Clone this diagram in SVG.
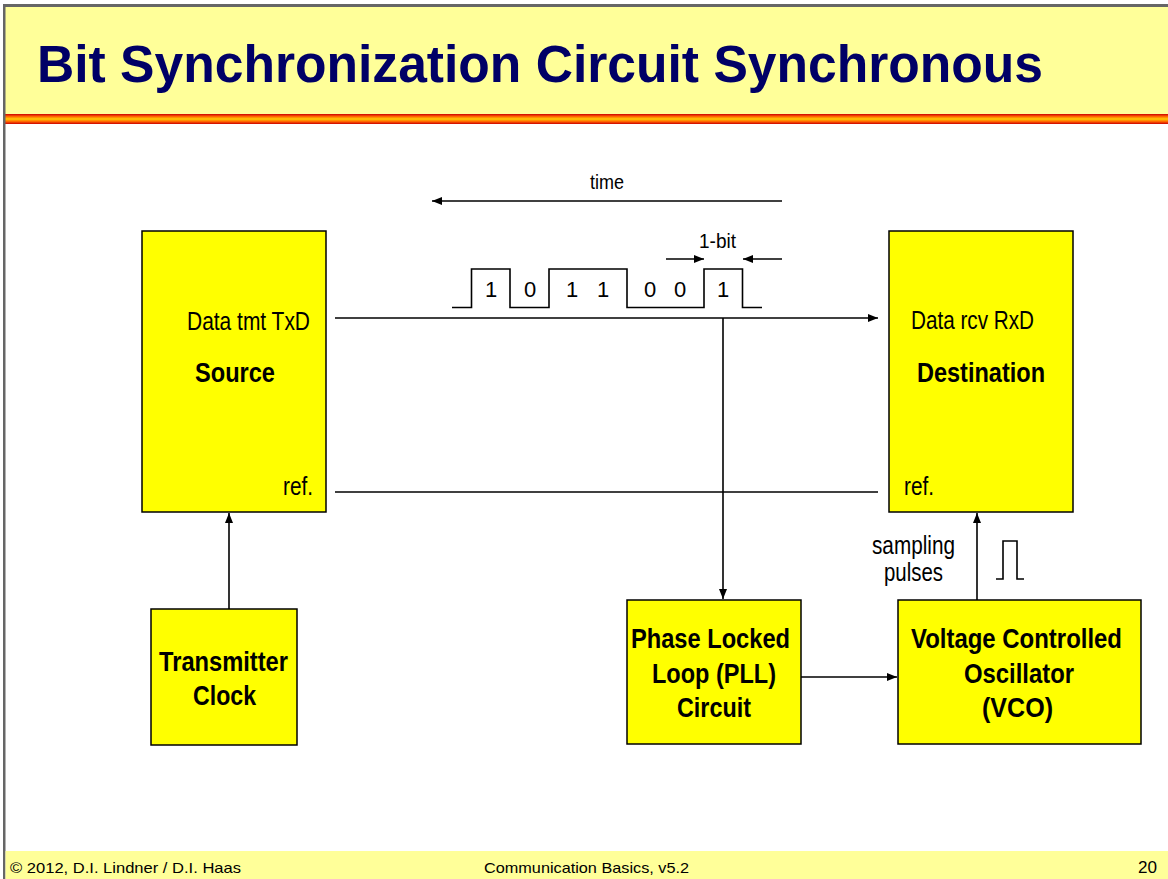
<svg xmlns="http://www.w3.org/2000/svg" width="1168" height="879" viewBox="0 0 1168 879">
<style>
.t{font-family:"Liberation Sans Narrow","Arial Narrow","Liberation Sans",Arial,sans-serif;fill:#000}
.lbl{font-size:25px}
.b{font-size:28px;font-weight:bold}
.ft{font-size:15px}
.box{fill:#FFFF00;stroke:#000;stroke-width:1.5}
.ln{stroke:#000;stroke-width:1.6;fill:none}
</style>
<defs>
<linearGradient id="stripe" x1="0" y1="0" x2="0" y2="1">
<stop offset="0" stop-color="#CC0000"/>
<stop offset="0.25" stop-color="#FF6600"/>
<stop offset="0.5" stop-color="#FFCC00"/>
<stop offset="0.75" stop-color="#FF6600"/>
<stop offset="1" stop-color="#CC0000"/>
</linearGradient>
<marker id="ah" viewBox="0 0 10 8" refX="10" refY="4" markerWidth="10" markerHeight="8" markerUnits="userSpaceOnUse" orient="auto">
<path d="M0,0 L10,4 L0,8 Z" fill="#000"/>
</marker>
</defs>
<rect x="0" y="0" width="1168" height="879" fill="#fff"/>
<!-- title band -->
<rect x="3" y="6" width="1165" height="108" fill="#FFFF99"/>
<rect x="3" y="114" width="1165" height="10" fill="url(#stripe)"/>
<rect x="3" y="4" width="1165" height="3" fill="#666"/>
<rect x="3" y="4" width="2.5" height="875" fill="#666"/>
<text x="37" y="82" class="t" font-size="51" font-weight="bold" fill="#000066" style="fill:#000066" textLength="1006" lengthAdjust="spacingAndGlyphs">Bit Synchronization Circuit Synchronous</text>
<!-- footer -->
<rect x="5.5" y="851" width="1163" height="28" fill="#FFFF99"/>
<text x="10" y="873" class="t ft" textLength="231" lengthAdjust="spacingAndGlyphs">© 2012, D.I. Lindner / D.I. Haas</text>
<text x="484" y="873" class="t ft" textLength="205" lengthAdjust="spacingAndGlyphs">Communication Basics, v5.2</text>
<text x="1138" y="873" class="t" font-size="17" textLength="19" lengthAdjust="spacingAndGlyphs">20</text>

<g id="source">
<rect x="142" y="231" width="184" height="281" class="box"/>
<text x="187" y="330" class="t lbl" textLength="123" lengthAdjust="spacingAndGlyphs">Data tmt TxD</text>
<text x="195" y="382" class="t b" textLength="80" lengthAdjust="spacingAndGlyphs">Source</text>
<text x="283" y="495" class="t lbl" textLength="30" lengthAdjust="spacingAndGlyphs">ref.</text>
</g>
<g id="destination">
<rect x="889" y="231" width="184" height="281" class="box"/>
<text x="911" y="329" class="t lbl" textLength="123" lengthAdjust="spacingAndGlyphs">Data rcv RxD</text>
<text x="917" y="382" class="t b" textLength="128" lengthAdjust="spacingAndGlyphs">Destination</text>
<text x="904" y="495" class="t lbl" textLength="30" lengthAdjust="spacingAndGlyphs">ref.</text>
</g>
<g id="txclock">
<rect x="151" y="609" width="146" height="136" class="box"/>
<text x="159" y="671" class="t b" textLength="129" lengthAdjust="spacingAndGlyphs">Transmitter</text>
<text x="193" y="705" class="t b" textLength="63" lengthAdjust="spacingAndGlyphs">Clock</text>
</g>
<g id="pll">
<rect x="627" y="600" width="174" height="144" class="box"/>
<text x="631" y="648" class="t b" textLength="159" lengthAdjust="spacingAndGlyphs">Phase Locked</text>
<text x="652" y="683" class="t b" textLength="124" lengthAdjust="spacingAndGlyphs">Loop (PLL)</text>
<text x="677" y="717" class="t b" textLength="74" lengthAdjust="spacingAndGlyphs">Circuit</text>
</g>
<g id="vco">
<rect x="898" y="600" width="243" height="144" class="box"/>
<text x="911" y="648" class="t b" textLength="211" lengthAdjust="spacingAndGlyphs">Voltage Controlled</text>
<text x="964" y="683" class="t b" textLength="110" lengthAdjust="spacingAndGlyphs">Oscillator</text>
<text x="982" y="717" class="t b" textLength="71" lengthAdjust="spacingAndGlyphs">(VCO)</text>
</g>

<g id="connectors">
<line x1="782" y1="201" x2="432" y2="201" class="ln" marker-end="url(#ah)"/>
<line x1="666" y1="259" x2="704" y2="259" class="ln" marker-end="url(#ah)"/>
<line x1="782" y1="259" x2="743" y2="259" class="ln" marker-end="url(#ah)"/>
<line x1="335" y1="318" x2="878" y2="318" class="ln" marker-end="url(#ah)"/>
<line x1="335" y1="492" x2="878" y2="492" class="ln"/>
<line x1="723" y1="318" x2="723" y2="599" class="ln" marker-end="url(#ah)"/>
<line x1="801" y1="677" x2="897" y2="677" class="ln" marker-end="url(#ah)"/>
<line x1="977" y1="600" x2="977" y2="513" class="ln" marker-end="url(#ah)"/>
<line x1="229" y1="609" x2="229" y2="513" class="ln" marker-end="url(#ah)"/>
</g>

<g id="waveform">
<path d="M452,307.5 H471.5 V269 H510 V307.5 H549 V269 H627 V307.5 H704 V269 H742.5 V307.5 H762" class="ln"/>
<g class="t" font-size="22" text-anchor="middle">
<text x="491" y="297">1</text>
<text x="530" y="297">0</text>
<text x="572" y="297">1</text>
<text x="603" y="297">1</text>
<text x="650" y="297">0</text>
<text x="680" y="297">0</text>
<text x="723" y="297">1</text>
</g>
<text x="590" y="189" class="t" font-size="21" textLength="34" lengthAdjust="spacingAndGlyphs">time</text>
<text x="699" y="248" class="t" font-size="21" textLength="37" lengthAdjust="spacingAndGlyphs">1-bit</text>
</g>
<g id="sampling">
<text x="872" y="554" class="t lbl" textLength="83" lengthAdjust="spacingAndGlyphs">sampling</text>
<text x="884" y="581" class="t lbl" textLength="59" lengthAdjust="spacingAndGlyphs">pulses</text>
<path d="M996,579 H1003 V541 H1017 V579 H1024" class="ln"/>
</g>
</svg>
